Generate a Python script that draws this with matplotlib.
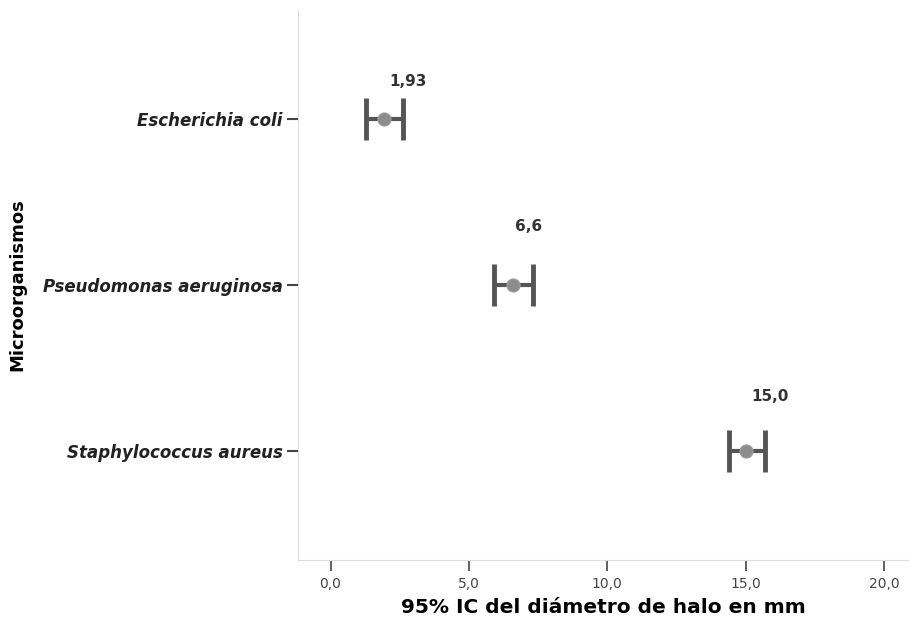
import matplotlib.pyplot as plt

plt.rcParams['font.family'] = ['DejaVu Sans']

organismos = ['Escherichia coli', 'Pseudomonas aeruginosa', 'Staphylococcus aureus']
medias = [1.93, 6.6, 15.0]
ic_inf = [1.28, 5.90, 14.40]
ic_sup = [2.62, 7.31, 15.70]
etiquetas = ['1,93', '6,6', '15,0']
xticks = [0, 5, 10, 15, 20]
xtick_labels = ['0,0', '5,0', '10,0', '15,0', '20,0']

# desplazamiento de las etiquetas (puntos)
desp = [(4, 27), (1, 42), (4, 39)]

fig = plt.figure(figsize=(9.09, 6.18), dpi=100)
ax = fig.add_axes([0.328, 0.094, 0.672, 0.89])

ypos = list(range(len(organismos)))
err = [[m - lo for m, lo in zip(medias, ic_inf)], [hi - m for m, hi in zip(medias, ic_sup)]]
ax.errorbar(medias, ypos, xerr=err, fmt='none', ecolor='#555555', elinewidth=3,
            capsize=15, capthick=3.5, zorder=2)
ax.scatter(medias, ypos, s=85, color='#8c8c8c', edgecolor='#9a9a9a', zorder=3)

for m, y, t, d in zip(medias, ypos, etiquetas, desp):
    ax.annotate(t, (m, y), xytext=d, textcoords='offset points',
                ha='left', va='center', fontsize=11, fontweight='bold', color='#333333')

ax.set_xlim(-1.17, 20.9)
ax.set_ylim(2.66, -0.66)
ax.set_yticks(ypos)
ax.set_yticklabels(organismos, fontstyle='italic', fontweight='bold', fontsize=12, color='#222222')
ax.set_xticks(xticks)
ax.set_xticklabels(xtick_labels, fontsize=10, color='#444444')
ax.tick_params(axis='y', length=8, width=1.5, color='#444444', pad=3)
ax.tick_params(axis='x', length=8, width=1.2, color='#444444', pad=4)

for s in ['top', 'right']:
    ax.spines[s].set_visible(False)
for s in ['left', 'bottom']:
    ax.spines[s].set_color('#dddddd')

ax.set_xlabel('95% IC del diámetro de halo en mm', fontsize=14.5, fontweight='bold', labelpad=5)
ax.set_ylabel('Microorganismos', fontsize=13, fontweight='bold')
ax.yaxis.set_label_coords(-0.445, 0.5)

fig.savefig('out.png', dpi=100)
